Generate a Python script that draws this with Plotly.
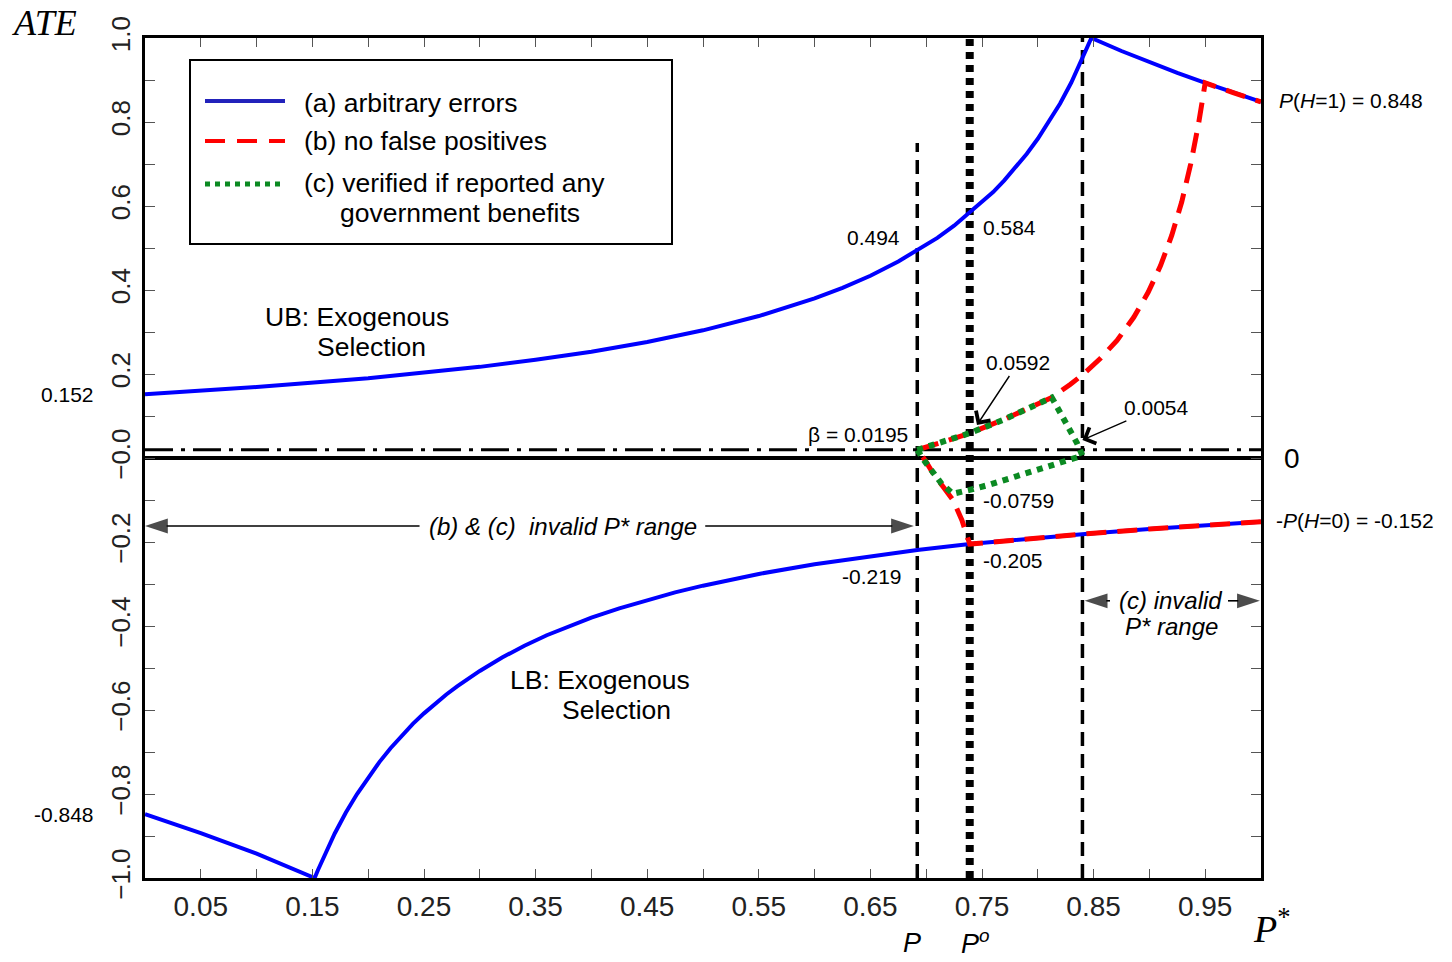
import plotly.graph_objects as go

# ---------------- data ----------------
# (a) arbitrary errors : upper bound (exogenous selection)
ub_x = [0, 0.10, 0.20, 0.30, 0.35, 0.40, 0.45, 0.50, 0.55, 0.60, 0.625, 0.65, 0.675, 0.692,
        0.71, 0.725, 0.739, 0.75, 0.76, 0.77, 0.78, 0.79, 0.80, 0.81, 0.82, 0.83, 0.84, 0.848,
        0.875, 0.90, 0.925, 0.95, 0.975, 1.0]
ub_y = [0.152, 0.169, 0.190, 0.217, 0.234, 0.253, 0.276, 0.304, 0.338, 0.380, 0.405, 0.434,
        0.468, 0.494, 0.524, 0.553, 0.584, 0.608, 0.633, 0.661, 0.691, 0.724, 0.760, 0.800,
        0.844, 0.894, 0.950, 1.0, 0.969, 0.942, 0.917, 0.893, 0.870, 0.848]
# (a) arbitrary errors : lower bound (exogenous selection)
lb_x = [0, 0.05, 0.10, 0.152, 0.155, 0.16, 0.165, 0.17, 0.175, 0.18, 0.19, 0.20, 0.21, 0.22,
        0.23, 0.24, 0.25, 0.26, 0.27, 0.28, 0.30, 0.32, 0.34, 0.36, 0.38, 0.40, 0.425, 0.45,
        0.475, 0.50, 0.55, 0.60, 0.65, 0.692, 0.739, 0.80, 0.85, 0.90, 0.95, 1.0]
lb_y = [-0.848, -0.893, -0.942, -1.0, -0.981, -0.950, -0.921, -0.894, -0.869, -0.844, -0.800,
        -0.760, -0.724, -0.691, -0.661, -0.633, -0.608, -0.585, -0.563, -0.543, -0.507,
        -0.475, -0.447, -0.422, -0.400, -0.380, -0.358, -0.338, -0.320, -0.304, -0.276,
        -0.253, -0.234, -0.219, -0.205, -0.190, -0.179, -0.169, -0.160, -0.152]
# (b) no false positives (lower branch then upper branch)
b_x = [1.0, 0.95, 0.90, 0.85, 0.80, 0.739, 0.732, 0.724, 0.715, 0.706, 0.699, 0.692, 0.715,
       0.739, 0.77, 0.80, 0.8125, 0.829, 0.841, 0.856, 0.871, 0.886, 0.899, 0.910, 0.920,
       0.929, 0.937, 0.944, 0.95, 0.975, 1.0]
b_y = [-0.152, -0.160, -0.169, -0.179, -0.190, -0.205, -0.148, -0.100, -0.068, -0.036, -0.005,
       0.0195, 0.038, 0.0592, 0.092, 0.128, 0.144, 0.175, 0.200, 0.237, 0.280, 0.335, 0.395,
       0.458, 0.530, 0.610, 0.700, 0.795, 0.893, 0.870, 0.848]
# (c) verified if reported any government benefits (closed loop)
c_x = [0.692, 0.715, 0.739, 0.77, 0.80, 0.8125, 0.818, 0.824, 0.830, 0.835, 0.840, 0.821,
       0.80, 0.778, 0.756, 0.739, 0.724, 0.714, 0.706, 0.699, 0.692]
c_y = [0.0195, 0.038, 0.0592, 0.092, 0.128, 0.144, 0.118, 0.090, 0.063, 0.036, 0.0054,
       -0.011, -0.029, -0.046, -0.064, -0.0759, -0.085, -0.062, -0.036, -0.009, 0.0195]

P_val = 0.692      # P
P_o_val = 0.739    # P^o
P_c_val = 0.840    # end of (c) valid range
beta = 0.0195

y_tickvals = [-1.0, -0.8, -0.6, -0.4, -0.2, 0.0, 0.2, 0.4, 0.6, 0.8, 1.0]
y_ticktext = ["\u22121.0", "\u22120.8", "\u22120.6", "\u22120.4", "\u22120.2", "\u22120.0",
              "0.2", "0.4", "0.6", "0.8", "1.0"]
x_tickvals = [0.05, 0.15, 0.25, 0.35, 0.45, 0.55, 0.65, 0.75, 0.85, 0.95]
x_ticktext = ["0.05", "0.15", "0.25", "0.35", "0.45", "0.55", "0.65", "0.75", "0.85", "0.95"]

legend_labels = ["(a) arbitrary errors", "(b) no false positives",
                 "(c) verified if reported any", "government benefits"]

BLUE = "#0000ff"
RED = "#ff0000"
GREEN = "#0b8a22"
FONT = "Liberation Sans, Arial, sans-serif"
SERIF = "Liberation Serif, Times New Roman, serif"

fig = go.Figure()
fig.add_trace(go.Scatter(x=ub_x, y=ub_y, mode="lines", line=dict(color=BLUE, width=4),
                         showlegend=False, name="(a) UB"))
fig.add_trace(go.Scatter(x=lb_x, y=lb_y, mode="lines", line=dict(color=BLUE, width=4),
                         showlegend=False, name="(a) LB"))
fig.add_trace(go.Scatter(x=b_x, y=b_y, mode="lines",
                         line=dict(color=RED, width=5, dash="20px,11px"),
                         showlegend=False, name="(b)"))
fig.add_trace(go.Scatter(x=c_x, y=c_y, mode="lines",
                         line=dict(color=GREEN, width=6, dash="6px,6px"),
                         showlegend=False, name="(c)"))

# invalid-range arrows (line with arrow marker at the tip)
arr_y1 = -0.162
arr_y2 = -0.340
for tail, tip, yy in [(0.246, 0.0, arr_y1), (0.502, P_val - 0.003, arr_y1),
                      (0.8647, P_c_val + 0.002, arr_y2), (0.9704, 0.999, arr_y2)]:
    fig.add_trace(go.Scatter(x=[tail, tip], y=[yy, yy], mode="lines+markers",
                             line=dict(color="black", width=1.6),
                             marker=dict(symbol="arrow", angleref="previous", size=[0, 24],
                                         color="black", line=dict(width=0)),
                             showlegend=False, hoverinfo="skip", cliponaxis=False))

shapes = []
# reference lines
shapes.append(dict(type="line", xref="x", yref="y", x0=0, x1=1, y0=0, y1=0,
                   line=dict(color="black", width=4), layer="below"))
shapes.append(dict(type="line", xref="x", yref="y", x0=0, x1=1, y0=beta, y1=beta,
                   line=dict(color="black", width=3, dash="28px,8px,4px,8px"), layer="below"))
shapes.append(dict(type="line", xref="x", yref="y", x0=P_val, x1=P_val, y0=-1, y1=0.75,
                   line=dict(color="black", width=3.5, dash="14px,8px"), layer="below"))
shapes.append(dict(type="line", xref="x", yref="y", x0=P_c_val, x1=P_c_val, y0=-1, y1=1,
                   line=dict(color="black", width=3.5, dash="14px,8px"), layer="below"))
shapes.append(dict(type="line", xref="x", yref="y", x0=P_o_val, x1=P_o_val, y0=-1, y1=1,
                   line=dict(color="black", width=8, dash="7px,6px"), layer="below"))


def px2paper_x(px):
    return (px - 145) / 1116.0


def px2paper_y(py):
    return (878 - py) / 840.0


# legend box (custom)
shapes.append(dict(type="rect", xref="paper", yref="paper",
                   x0=px2paper_x(190), x1=px2paper_x(672), y0=px2paper_y(244), y1=px2paper_y(60),
                   line=dict(color="black", width=2), fillcolor="white", layer="above"))
leg_styles = [dict(color="#2222bb", width=4), dict(color=RED, width=4, dash="20px,12px"),
              dict(color=GREEN, width=5, dash="5px,5px")]
leg_y = [101, 141, 184]
for st, yy in zip(leg_styles, leg_y):
    shapes.append(dict(type="line", xref="paper", yref="paper", x0=px2paper_x(205),
                       x1=px2paper_x(285), y0=px2paper_y(yy), y1=px2paper_y(yy),
                       line=st, layer="above"))

ann = []
txt_font = dict(family=FONT, size=26.5, color="black")
for lab, xx, yy in zip(legend_labels, [302, 302, 302, 338], [103, 141, 182.5, 212.5]):
    ann.append(dict(text=lab, xref="paper", yref="paper", x=px2paper_x(xx), y=px2paper_y(yy),
                    xanchor="left", yanchor="middle", showarrow=False, font=txt_font))

num_font = dict(family=FONT, size=21, color="black")


def num(text, x, y, xanchor="left", xref="x", **kw):
    d = dict(text=text, xref=xref, yref="y", x=x, y=y, xanchor=xanchor, yanchor="middle",
             showarrow=False, font=num_font)
    d.update(kw)
    ann.append(d)


# labels outside the x range use paper x (x-axis range [0, 1] equals paper [0, 1])
num("0.152", px2paper_x(96), 0.152, "right", xref="paper")
num("-0.848", px2paper_x(96), -0.848, "right", xref="paper")
num("<i>P</i>(<i>H</i>=1) = 0.848", px2paper_x(1277), 0.852, xref="paper")
num("-<i>P</i>(<i>H</i>=0) = -0.152", px2paper_x(1274), -0.148, xref="paper")
num("0", px2paper_x(1292), 0, "center", xref="paper",
    font=dict(family=FONT, size=28, color="black"))
num("0.494", 0.678, 0.524, "right")
num("0.584", 0.749, 0.55)
num("\u03b2 = 0.0195", 0.6855, 0.057, "right")
num("-0.0759", 0.749, -0.100)
num("-0.205", 0.749, -0.243)
num("-0.219", 0.680, -0.281, "right")

# arrows with values
ann.append(dict(text="0.0592", xref="x", yref="y", x=0.7455, y=0.0786, ax=41, ay=-62,
                showarrow=True, arrowhead=4, arrowsize=2.4, arrowwidth=1.4, arrowcolor="black",
                font=num_font))
ann.append(dict(text="0.0054", xref="x", yref="y", x=P_c_val, y=0.043, ax=74, ay=-32,
                showarrow=True, arrowhead=4, arrowsize=2.4, arrowwidth=1.4, arrowcolor="black",
                font=num_font))

# region labels
for text, x, y in [("UB: Exogenous", 0.1057, 0.3355), ("Selection", 0.152, 0.2645),
                   ("LB: Exogenous", 0.325, -0.5295), ("Selection", 0.372, -0.6005)]:
    ann.append(dict(text=text, xref="x", yref="y", x=x, y=y, xanchor="left", yanchor="middle",
                    showarrow=False, font=txt_font))

it_font = dict(family=FONT, size=24, color="black")
ann.append(dict(text="<i>(b) &amp; (c)  invalid P* range</i>", xref="x", yref="y", x=0.3746,
                y=arr_y1, xanchor="center", yanchor="middle", showarrow=False, font=it_font))
ann.append(dict(text="<i>(c) invalid</i>", xref="x", yref="y", x=0.919, y=arr_y2,
                xanchor="center", yanchor="middle", showarrow=False, font=it_font))
ann.append(dict(text="<i>P* range</i>", xref="x", yref="y", x=0.920, y=-0.402,
                xanchor="center", yanchor="middle", showarrow=False, font=it_font))

# axis-side labels
ann.append(dict(text="<i>ATE</i>", xref="paper", yref="paper", x=px2paper_x(44),
                y=px2paper_y(1), xanchor="center", yanchor="top", showarrow=False,
                font=dict(family=SERIF, size=36, color="black")))
ann.append(dict(text="<i>P</i><sup>*</sup>", xref="paper", yref="paper", x=px2paper_x(1272),
                y=px2paper_y(926), xanchor="center", yanchor="middle", showarrow=False,
                font=dict(family=SERIF, size=38, color="black")))
ann.append(dict(text="<i>P</i>", xref="x", yref="paper", x=P_val - 0.005, y=px2paper_y(943),
                xanchor="center", yanchor="middle", showarrow=False,
                font=dict(family=FONT, size=27, color="black")))
ann.append(dict(text="<i>P<sup>o</sup></i>", xref="x", yref="paper", x=P_o_val + 0.005,
                y=px2paper_y(942), xanchor="center", yanchor="middle", showarrow=False,
                font=dict(family=FONT, size=27, color="black")))

fig.update_layout(
    width=1452, height=962, autosize=False,
    margin=dict(l=145, r=191, t=38, b=84),
    plot_bgcolor="white", paper_bgcolor="white",
    showlegend=False,
    shapes=shapes, annotations=ann,
    xaxis=dict(range=[0, 1], tickvals=x_tickvals, ticktext=x_ticktext, ticks="inside",
               ticklen=9, tickwidth=1, tickcolor="#555",
               minor=dict(tick0=0, dtick=0.1, ticks="inside", ticklen=9, tickwidth=1,
                          tickcolor="#555"),
               showline=True, linecolor="black", linewidth=3, mirror="ticks",
               showgrid=False, zeroline=False,
               tickfont=dict(family=FONT, size=28, color="#222", weight=300),
               ticklabelstandoff=1, automargin=False),
    yaxis=dict(range=[-1, 1], tickvals=y_tickvals, ticktext=y_ticktext, ticks="inside",
               ticklen=10, tickwidth=1, tickcolor="#555",
               minor=dict(tick0=-0.9, dtick=0.2, ticks="inside", ticklen=10, tickwidth=1,
                          tickcolor="#555"),
               showline=True, linecolor="black", linewidth=3, mirror="ticks",
               showgrid=False, zeroline=False, tickangle=-90,
               tickfont=dict(family=FONT, size=26, color="#222", weight=300),
               ticklabelstandoff=2, automargin=False),
)

# remove the browser's default 8px page margin so the figure fills the 1452x962 window
fig.write_html("out.html", config={"displayModeBar": False},
               post_script="document.body.style.margin = '0px';")
